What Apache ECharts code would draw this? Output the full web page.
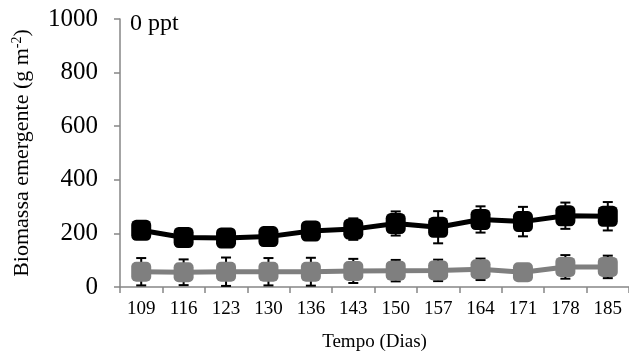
<!DOCTYPE html>
<html>
<head>
<meta charset="utf-8">
<script src="https://cdn.jsdelivr.net/npm/echarts@6/dist/echarts.min.js"></script>
<style>
  html, body { margin: 0; padding: 0; background: #fff; }
  #chart { width: 629px; height: 358px; }
</style>
</head>
<body>
<div id="chart"></div>
<script>
// Sampling days
const days = ['109', '116', '123', '130', '136', '143', '150', '157', '164', '171', '178', '185'];

// Emergent biomass (g m-2), upper treatment (black) and its error
const biomassBlack = [212, 185, 183, 188, 209, 216, 237, 223, 252, 244, 266, 264];
const errBlack     = [25, 22, 24, 22, 22, 40, 45, 60, 49, 55, 49, 53];

// Emergent biomass (g m-2), lower treatment (grey) and its error
const biomassGrey = [57, 55, 57, 57, 57, 60, 61, 62, 66, 55, 75, 75];
const errGrey     = [51, 48, 53, 51, 52, 45, 40, 40, 40, 20, 44, 42];

// Y axis ticks
const yTicks = [0, 200, 400, 600, 800, 1000];

const SERIF = '"Liberation Serif", "Times New Roman", serif';

function errorData(values, errs) {
  return values.map((v, i) => [i, v - errs[i], v + errs[i]]);
}

function renderErrorBar(params, api) {
  const lo = api.coord([api.value(0), api.value(1)]);
  const hi = api.coord([api.value(0), api.value(2)]);
  const half = 5;
  const style = { stroke: '#000', lineWidth: 2 };
  return {
    type: 'group',
    children: [
      { type: 'line', shape: { x1: lo[0], y1: lo[1], x2: hi[0], y2: hi[1] }, style },
      { type: 'line', shape: { x1: lo[0] - half, y1: lo[1], x2: lo[0] + half, y2: lo[1] }, style },
      { type: 'line', shape: { x1: hi[0] - half, y1: hi[1], x2: hi[0] + half, y2: hi[1] }, style }
    ]
  };
}

const chart = echarts.init(document.getElementById('chart'), null, { renderer: 'canvas' });

chart.setOption({
  animation: false,
  backgroundColor: '#fff',
  textStyle: { fontFamily: SERIF },
  grid: { left: 120, right: -3, top: 19, bottom: 71, containLabel: false },
  graphic: [{
    type: 'text',
    left: 130,
    top: 12,
    style: { text: '0 ppt', font: '24px ' + SERIF, fill: '#000' }
  }],
  xAxis: {
    type: 'category',
    data: days,
    boundaryGap: true,
    name: 'Tempo (Dias)',
    nameLocation: 'middle',
    nameGap: 46,
    nameTextStyle: { fontFamily: SERIF, fontSize: 19, color: '#000' },
    axisLine: { lineStyle: { color: '#868686', width: 1.5 } },
    axisTick: { show: true, inside: false, length: 6, lineStyle: { color: '#868686', width: 1.5 }, alignWithLabel: false },
    axisLabel: { fontFamily: SERIF, fontSize: 19, color: '#000', margin: 13, interval: 0 },
    splitLine: { show: false }
  },
  yAxis: {
    type: 'value',
    min: yTicks[0],
    max: yTicks[yTicks.length - 1],
    interval: 200,
    name: '{t|Biomassa emergente (g m}{s|-2}{t|)}',
    nameLocation: 'middle',
    nameRotate: 90,
    nameGap: 86,
    nameTextStyle: {
      rich: {
        t: { fontFamily: SERIF, fontSize: 22, color: '#000' },
        s: { fontFamily: SERIF, fontSize: 14, color: '#000', verticalAlign: 'top', padding: [0, 0, 10, 0] }
      }
    },
    axisLine: { show: true, lineStyle: { color: '#868686', width: 1.5 } },
    axisTick: { show: true, inside: false, length: 6, lineStyle: { color: '#868686', width: 1.5 } },
    axisLabel: {
      fontFamily: SERIF, fontSize: 25, color: '#000', margin: 22,
      formatter: (v) => String(v)
    },
    splitLine: { show: false }
  },
  series: [
    {
      type: 'custom',
      name: 'errGrey',
      renderItem: renderErrorBar,
      data: errorData(biomassGrey, errGrey),
      z: 1,
      silent: true
    },
    {
      type: 'custom',
      name: 'errBlack',
      renderItem: renderErrorBar,
      data: errorData(biomassBlack, errBlack),
      z: 1,
      silent: true
    },
    {
      type: 'line',
      name: 'grey',
      data: biomassGrey,
      symbol: 'roundRect',
      symbolSize: [20, 20],
      showAllSymbol: true,
      lineStyle: { color: '#7f7f7f', width: 5 },
      itemStyle: { color: '#7f7f7f', borderWidth: 0 },
      z: 3
    },
    {
      type: 'line',
      name: 'black',
      data: biomassBlack,
      symbol: 'roundRect',
      symbolSize: [20, 21],
      showAllSymbol: true,
      lineStyle: { color: '#000', width: 5 },
      itemStyle: { color: '#000', borderWidth: 0 },
      z: 4
    }
  ]
});
</script>
</body>
</html>
